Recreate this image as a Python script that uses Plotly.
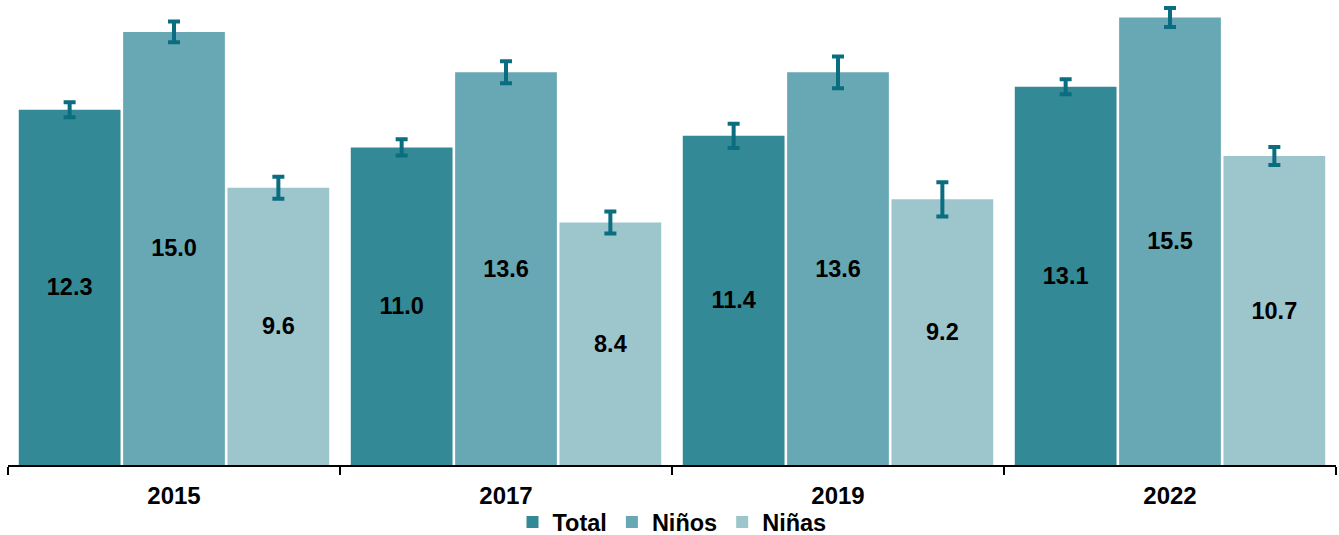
import plotly.graph_objects as go

years = ["2015", "2017", "2019", "2022"]
total = [12.3, 11.0, 11.4, 13.1]
ninos = [15.0, 13.6, 13.6, 15.5]
ninas = [9.6, 8.4, 9.2, 10.7]
err_total = [0.26, 0.28, 0.42, 0.26]
err_ninos = [0.36, 0.38, 0.55, 0.33]
err_ninas = [0.38, 0.38, 0.59, 0.31]

series = [
    ("Total", total, err_total, "#338996"),
    ("Niños", ninos, err_ninos, "#67a8b4"),
    ("Niñas", ninas, err_ninas, "#9cc5cc"),
]

fig = go.Figure()
for name, vals, errs, color in series:
    fig.add_trace(go.Bar(
        name=name, x=years, y=vals,
        marker=dict(color=color, line=dict(width=0)),
        text=[f"{v:.1f}" for v in vals],
        textposition="inside", insidetextanchor="middle",
        textfont=dict(family="Liberation Sans, Arial", size=23.5, color="black", weight="bold"),
        error_y=dict(type="data", array=errs, visible=True, color="#0b6e80", thickness=4, width=6),
    ))

fig.update_layout(
    width=1339, height=535,
    margin=dict(l=8, r=3, t=3, b=70),
    barmode="group", bargap=0.057, bargroupgap=0.025,
    plot_bgcolor="white", paper_bgcolor="white",
    font=dict(family="Liberation Sans, Arial", color="black"),
    legend=dict(orientation="h", x=0.5, xanchor="center", yref="container", y=0.024, yanchor="middle",
                font=dict(size=23.5, weight="bold"), itemwidth=30, traceorder="normal",
                tracegroupgap=0, bgcolor="rgba(0,0,0,0)"),
    showlegend=True,
)
fig.update_xaxes(
    automargin=False,
    showline=True, linecolor="black", linewidth=2,
    ticks="outside", tickson="boundaries", ticklen=8, tickwidth=2, tickcolor="black",
    tickfont=dict(size=24, weight="bold"), ticklabelstandoff=8,
)
fig.update_yaxes(range=[0, 16], visible=False, showgrid=False, automargin=False)

fig.write_html(
    "out.html",
    config={"displayModeBar": False},
    post_script="document.body.style.margin='0';document.body.style.overflow='hidden';",
)
